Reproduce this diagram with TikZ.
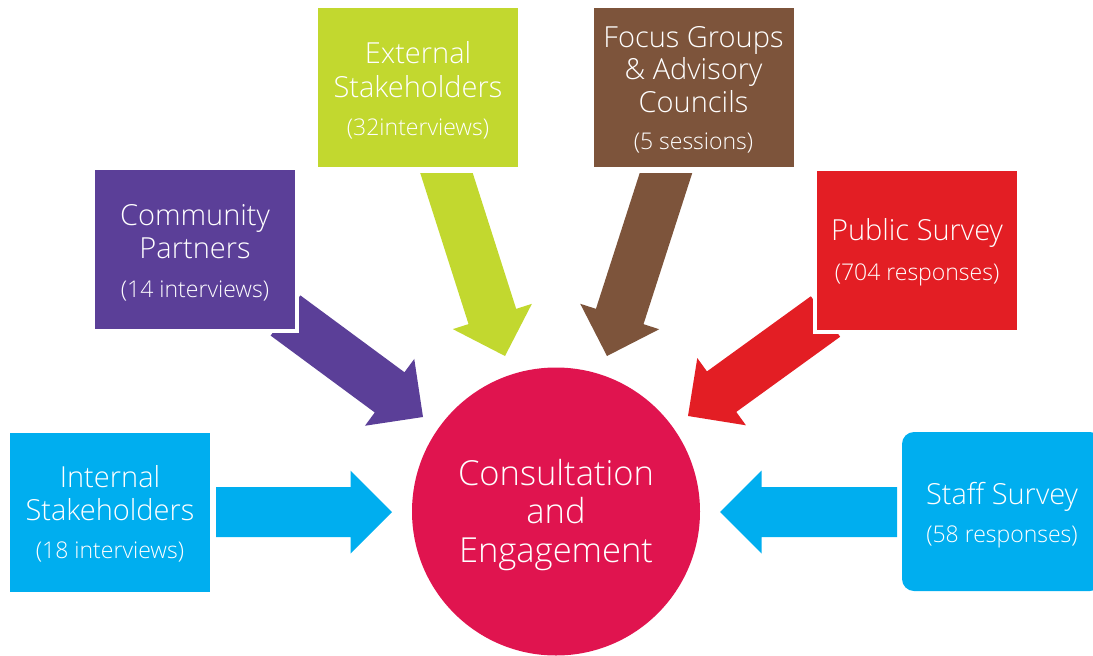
\documentclass[tikz,border=0pt]{standalone}
\usepackage{fontspec}
\setmainfont{Open Sans}[UprightFont={* Light}]
\usetikzlibrary{calc}

\definecolor{skyblue}{HTML}{00AEEF}
\definecolor{grape}{HTML}{5B3F98}
\definecolor{lime}{HTML}{C2D82F}
\definecolor{cocoa}{HTML}{7D543B}
\definecolor{signal}{HTML}{E31E24}
\definecolor{crimson}{HTML}{E0144F}

% Block arrow from back-centre coordinate #1 to tip coordinate #2, filled with #3
\newcommand\blockarrow[3]{%
  \coordinate (#2-h) at ($(#2)!41.5pt!(#1)$);
  \fill[#3] ($(#1)!25pt!90:(#2)$) -- ($(#2-h)!25pt!90:(#2)$)
    -- ($(#2-h)!41.5pt!90:(#2)$) -- (#2)
    -- ($(#2-h)!41.5pt!-90:(#2)$) -- ($(#2-h)!25pt!-90:(#2)$)
    -- ($(#1)!25pt!-90:(#2)$) -- cycle;
}

\begin{document}
\begin{tikzpicture}[x=1pt,y=-1pt,
  box/.style={rectangle, draw=white, line width=4pt, minimum width=204pt,
    minimum height=163pt, inner sep=0pt},
  ttl/.style={anchor=base, text=white, inner sep=0pt,
    font=\fontsize{29}{29}\selectfont},
  sub/.style={anchor=base, text=white, inner sep=0pt,
    font=\fontsize{23}{23}\selectfont},
  hub/.style={anchor=base, text=white, inner sep=0pt,
    font=\fontsize{34.5}{34.5}\selectfont}]
\clip (0,0) rectangle (1093,656);

% arrow end points
\coordinate (inBack) at (216,512);    \coordinate (inTip) at (392,512);
\coordinate (cpBack) at (285.5,315.5); \coordinate (cpTip) at (423,417);
\coordinate (exBack) at (440.4,154);  \coordinate (exTip) at (505,356);
\coordinate (fgBack) at (672.1,154);  \coordinate (fgTip) at (607,356);
\coordinate (psBack) at (825.5,316.5); \coordinate (psTip) at (688,416);
\coordinate (ssBack) at (897,512);    \coordinate (ssTip) at (720,512);

% arrows pointing at the hub
\blockarrow{inBack}{inTip}{skyblue}
\blockarrow{cpBack}{cpTip}{grape}
\blockarrow{psBack}{psTip}{signal}
\blockarrow{ssBack}{ssTip}{skyblue}
\begin{scope}
  \clip (0,173) rectangle (1093,656);
  \blockarrow{exBack}{exTip}{lime}
  \blockarrow{fgBack}{fgTip}{cocoa}
\end{scope}

% source boxes
\node[box, fill=skyblue] (internal) at (110,512) {};
\node[box, fill=grape]   (community) at (195,249.5) {};
\node[box, fill=lime]    (external) at (418,87.5) {};
\node[box, fill=cocoa]   (focus) at (693.5,87) {};
\node[box, fill=signal]  (public) at (917,250) {};
\node[rectangle, rounded corners=12pt, fill=skyblue, minimum width=200pt,
  minimum height=159pt] (staff) at (1002,511.5) {};

% hub
\node[circle, fill=crimson, minimum size=288pt, inner sep=0pt] (hub) at (556,511.5) {};

% labels
\node[ttl] (inA) at (110,487) {Internal};
\node[ttl] (inB) at (110,520) {Stakeholders};
\node[sub] (inC) at (110,558) {(18 interviews)};

\node[ttl] (cpA) at (195,225) {Community};
\node[ttl] (cpB) at (195,258) {Partners};
\node[sub] (cpC) at (195,297) {(14 interviews)};

\node[ttl] (exA) at (418,63) {External};
\node[ttl] (exB) at (418,97) {Stakeholders};
\node[sub] (exC) at (418,135) {(32interviews)};

\node[ttl] (fgA) at (693.5,47) {Focus Groups};
\node[ttl] (fgB) at (693.5,79.5) {\& Advisory};
\node[ttl] (fgC) at (693.5,112) {Councils};
\node[sub] (fgD) at (693.5,149) {(5 sessions)};

\node[ttl] (psA) at (917,240) {Public Survey};
\node[sub] (psB) at (917,280) {(704 responses)};

\node[ttl] (ssA) at (1002,504) {Staff Survey};
\node[sub] (ssB) at (1002,542) {(58 responses)};

\node[hub] (hubA) at (556,485) {Consultation};
\node[hub] (hubB) at (556,523) {and};
\node[hub] (hubC) at (556,562) {Engagement};
\end{tikzpicture}
\end{document}
